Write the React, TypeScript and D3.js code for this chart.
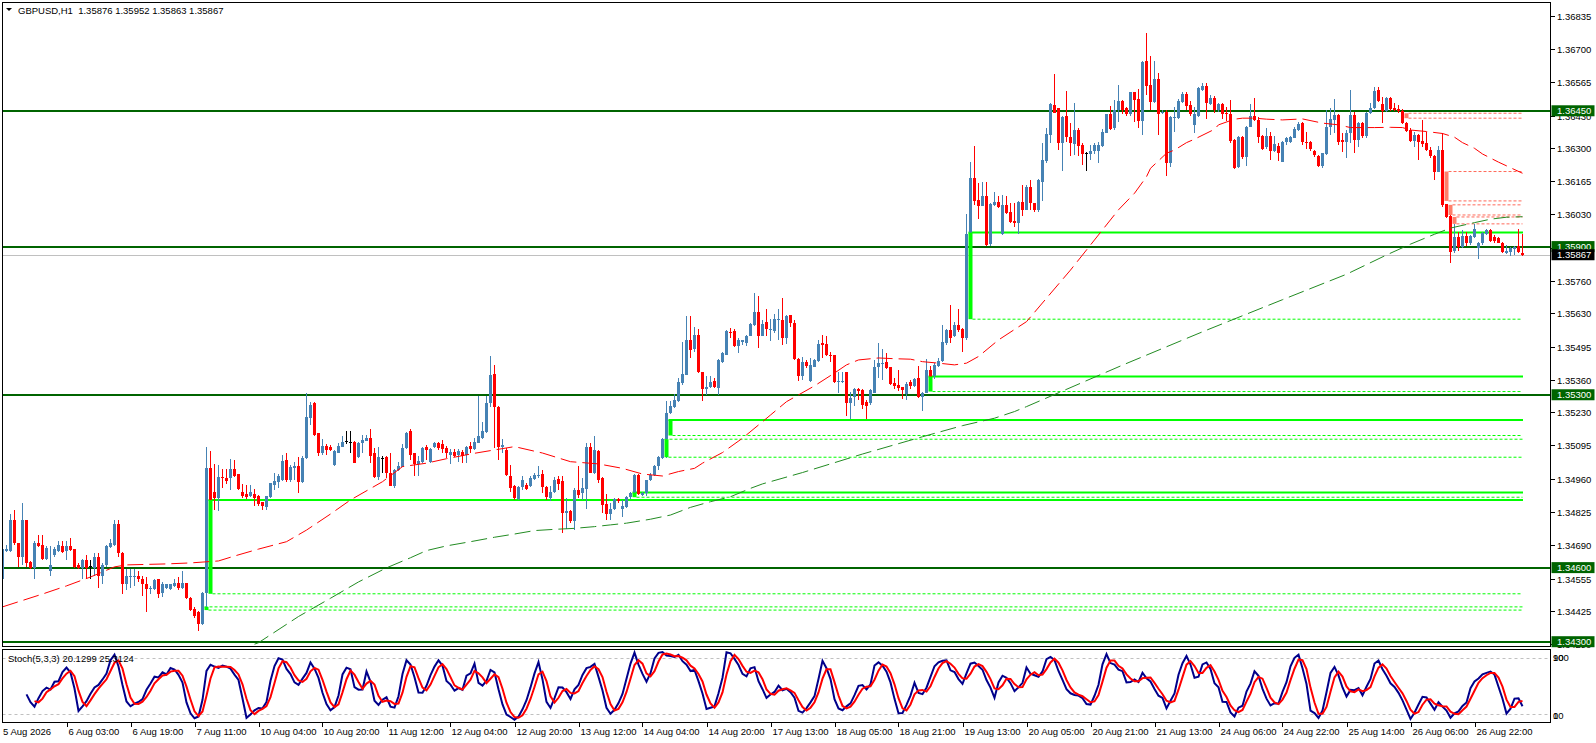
import React, { useEffect, useRef } from 'react';
import * as d3 from 'd3';

// GBPUSD H1 candles, [open, high, low, close]
const candles: [number, number, number, number][] = [
  [1.34552,1.34684,1.34543,1.34676],[1.34667,1.34692,1.34664,1.34674],[1.34667,1.34816,1.34664,1.34791],[1.34791,1.34833,1.34692,1.34701],
  [1.34701,1.34701,1.34601,1.34643],[1.34643,1.34863,1.34610,1.34791],[1.34791,1.34791,1.34601,1.34618],[1.34621,1.34626,1.34593,1.34598],
  [1.34598,1.34709,1.34552,1.34701],[1.34701,1.34734,1.34684,1.34687],[1.34692,1.34734,1.34631,1.34634],[1.34634,1.34687,1.34631,1.34681],
  [1.34585,1.34689,1.34568,1.34610],[1.34651,1.34684,1.34643,1.34676],[1.34667,1.34709,1.34664,1.34692],[1.34687,1.34709,1.34659,1.34664],
  [1.34667,1.34709,1.34631,1.34687],[1.34687,1.34720,1.34667,1.34671],[1.34676,1.34676,1.34598,1.34601],[1.34610,1.34618,1.34593,1.34598],
  [1.34598,1.34634,1.34552,1.34631],[1.34631,1.34651,1.34552,1.34598],[1.34605,1.34631,1.34552,1.34605],[1.34598,1.34659,1.34568,1.34643],
  [1.34643,1.34659,1.34519,1.34565],[1.34565,1.34618,1.34535,1.34610],[1.34610,1.34692,1.34601,1.34687],[1.34684,1.34717,1.34681,1.34701],
  [1.34692,1.34791,1.34687,1.34775],[1.34775,1.34791,1.34643,1.34659],[1.34659,1.34664,1.34494,1.34535],[1.34535,1.34593,1.34510,1.34565],
  [1.34560,1.34593,1.34519,1.34568],[1.34565,1.34593,1.34527,1.34568],[1.34568,1.34588,1.34543,1.34552],[1.34552,1.34568,1.34486,1.34532],
  [1.34532,1.34560,1.34419,1.34515],[1.34515,1.34527,1.34494,1.34519],[1.34515,1.34555,1.34510,1.34548],[1.34552,1.34555,1.34477,1.34494],
  [1.34499,1.34543,1.34482,1.34532],[1.34519,1.34535,1.34515,1.34532],[1.34515,1.34535,1.34510,1.34532],[1.34527,1.34552,1.34522,1.34538],
  [1.34538,1.34560,1.34510,1.34519],[1.34519,1.34585,1.34515,1.34538],[1.34538,1.34538,1.34472,1.34477],[1.34477,1.34482,1.34423,1.34428],
  [1.34433,1.34439,1.34395,1.34403],[1.34419,1.34424,1.34345,1.34370],[1.34370,1.34502,1.34366,1.34499],[1.34499,1.35089,1.34428,1.35003],
  [1.35003,1.35072,1.34866,1.34874],[1.34907,1.35020,1.34833,1.34882],[1.34882,1.35015,1.34829,1.34965],[1.34965,1.35001,1.34924,1.34962],
  [1.34962,1.34998,1.34940,1.34952],[1.34962,1.35039,1.34915,1.34998],[1.34998,1.35034,1.34968,1.34973],[1.34978,1.34981,1.34915,1.34919],
  [1.34907,1.34940,1.34882,1.34891],[1.34899,1.34935,1.34879,1.34886],[1.34891,1.34935,1.34886,1.34907],[1.34899,1.34919,1.34849,1.34882],
  [1.34891,1.34896,1.34849,1.34858],[1.34867,1.34867,1.34834,1.34850],[1.34847,1.34890,1.34834,1.34888],[1.34885,1.34944,1.34881,1.34942],
  [1.34935,1.34982,1.34915,1.34952],[1.34948,1.34979,1.34921,1.34969],[1.34955,1.35056,1.34952,1.35033],[1.35036,1.35063,1.34948,1.34955],
  [1.34955,1.35016,1.34948,1.35009],[1.35002,1.35029,1.34955,1.35012],[1.35012,1.35047,1.34901,1.34948],[1.34948,1.35050,1.34942,1.35043],
  [1.35043,1.35306,1.35039,1.35209],[1.35205,1.35272,1.35178,1.35259],[1.35266,1.35272,1.35131,1.35137],[1.35144,1.35147,1.35050,1.35066],
  [1.35066,1.35120,1.35056,1.35093],[1.35093,1.35101,1.35056,1.35077],[1.35087,1.35097,1.35074,1.35077],[1.35016,1.35077,1.35012,1.35072],
  [1.35066,1.35104,1.35063,1.35093],[1.35090,1.35131,1.35087,1.35110],[1.35113,1.35155,1.35101,1.35113],[1.35110,1.35155,1.35063,1.35110],
  [1.35110,1.35113,1.35023,1.35025],[1.35047,1.35108,1.35043,1.35104],[1.35104,1.35137,1.35063,1.35117],[1.35114,1.35137,1.35112,1.35126],
  [1.35126,1.35160,1.35023,1.35050],[1.35063,1.35083,1.34962,1.34966],[1.34966,1.35090,1.34955,1.35047],[1.35043,1.35052,1.34985,1.35043],
  [1.35047,1.35052,1.34962,1.34982],[1.34985,1.35063,1.34931,1.34931],[1.34931,1.34998,1.34921,1.34995],[1.34995,1.35029,1.34993,1.35012],
  [1.35009,1.35101,1.35006,1.35083],[1.35083,1.35151,1.35079,1.35144],[1.35155,1.35160,1.35036,1.35056],[1.35063,1.35066,1.34969,1.35020],
  [1.35020,1.35050,1.34969,1.35033],[1.35029,1.35087,1.35025,1.35083],[1.35087,1.35097,1.35036,1.35077],[1.35029,1.35083,1.35025,1.35079],
  [1.35087,1.35110,1.35083,1.35106],[1.35106,1.35110,1.35077,1.35083],[1.35101,1.35117,1.35063,1.35079],[1.35083,1.35093,1.35043,1.35066],
  [1.35056,1.35079,1.35020,1.35070],[1.35070,1.35079,1.35047,1.35052],[1.35056,1.35079,1.35029,1.35074],[1.35070,1.35077,1.35025,1.35052],
  [1.35056,1.35093,1.35025,1.35090],[1.35093,1.35110,1.35063,1.35079],[1.35079,1.35124,1.35077,1.35110],[1.35106,1.35295,1.35104,1.35131],
  [1.35124,1.35191,1.35120,1.35155],[1.35151,1.35295,1.35147,1.35268],[1.35268,1.35455,1.35252,1.35380],[1.35384,1.35421,1.35083,1.35252],
  [1.35252,1.35255,1.35036,1.35090],[1.35090,1.35120,1.35066,1.35097],[1.35077,1.35083,1.34969,1.34975],[1.34971,1.35016,1.34908,1.34921],
  [1.34929,1.34935,1.34875,1.34881],[1.34877,1.34929,1.34875,1.34926],[1.34926,1.34969,1.34915,1.34956],[1.34935,1.34942,1.34915,1.34918],
  [1.34929,1.34969,1.34926,1.34962],[1.34958,1.34982,1.34956,1.34976],[1.34972,1.35012,1.34962,1.34976],[1.34980,1.34996,1.34904,1.34926],
  [1.34926,1.34929,1.34875,1.34885],[1.34881,1.34929,1.34868,1.34908],[1.34908,1.34966,1.34904,1.34956],[1.34958,1.34972,1.34915,1.34939],
  [1.34949,1.34969,1.34740,1.34820],[1.34823,1.34881,1.34756,1.34831],[1.34831,1.34834,1.34780,1.34787],[1.34787,1.34922,1.34753,1.34915],
  [1.34915,1.35012,1.34881,1.34895],[1.34904,1.34962,1.34875,1.34922],[1.34920,1.35104,1.34837,1.35090],[1.35090,1.35104,1.34982,1.34985],
  [1.34985,1.35134,1.34980,1.35077],[1.35074,1.35077,1.34942,1.34956],[1.34962,1.34966,1.34820,1.34854],[1.34859,1.34899,1.34793,1.34818],
  [1.34818,1.34861,1.34793,1.34837],[1.34837,1.34881,1.34834,1.34877],[1.34877,1.34881,1.34861,1.34868],[1.34837,1.34875,1.34807,1.34850],
  [1.34845,1.34888,1.34841,1.34885],[1.34885,1.34908,1.34877,1.34904],[1.34902,1.34980,1.34885,1.34976],[1.34976,1.34980,1.34895,1.34899],
  [1.34895,1.34908,1.34888,1.34904],[1.34904,1.34956,1.34888,1.34953],[1.34953,1.34982,1.34949,1.34976],[1.34976,1.35016,1.34969,1.35012],
  [1.35012,1.35050,1.34996,1.35047],[1.35043,1.35124,1.35039,1.35120],[1.35120,1.35273,1.35043,1.35228],[1.35226,1.35273,1.35223,1.35255],
  [1.35250,1.35304,1.35246,1.35280],[1.35273,1.35367,1.35269,1.35350],[1.35347,1.35512,1.35340,1.35385],[1.35381,1.35617,1.35381,1.35520],
  [1.35522,1.35617,1.35448,1.35482],[1.35485,1.35576,1.35475,1.35543],[1.35543,1.35566,1.35388,1.35394],[1.35394,1.35394,1.35273,1.35323],
  [1.35323,1.35374,1.35300,1.35333],[1.35333,1.35377,1.35327,1.35350],[1.35354,1.35367,1.35327,1.35331],[1.35327,1.35444,1.35300,1.35439],
  [1.35431,1.35475,1.35428,1.35468],[1.35463,1.35563,1.35462,1.35560],[1.35556,1.35570,1.35529,1.35552],[1.35560,1.35566,1.35493,1.35496],
  [1.35498,1.35529,1.35468,1.35522],[1.35512,1.35522,1.35502,1.35520],[1.35509,1.35543,1.35498,1.35539],[1.35539,1.35590,1.35536,1.35587],
  [1.35583,1.35714,1.35579,1.35637],[1.35637,1.35701,1.35489,1.35536],[1.35539,1.35604,1.35536,1.35587],[1.35593,1.35647,1.35539,1.35566],
  [1.35562,1.35606,1.35519,1.35568],[1.35560,1.35627,1.35549,1.35606],[1.35603,1.35646,1.35522,1.35606],[1.35603,1.35691,1.35502,1.35529],
  [1.35529,1.35623,1.35506,1.35619],[1.35623,1.35623,1.35576,1.35590],[1.35592,1.35603,1.35441,1.35444],[1.35444,1.35448,1.35356,1.35376],
  [1.35376,1.35452,1.35360,1.35434],[1.35434,1.35441,1.35407,1.35417],[1.35356,1.35448,1.35353,1.35421],[1.35414,1.35444,1.35411,1.35441],
  [1.35438,1.35522,1.35434,1.35506],[1.35511,1.35542,1.35448,1.35502],[1.35506,1.35536,1.35455,1.35461],[1.35461,1.35475,1.35434,1.35457],
  [1.35461,1.35461,1.35347,1.35353],[1.35353,1.35394,1.35309,1.35356],[1.35353,1.35394,1.35347,1.35356],[1.35394,1.35394,1.35212,1.35268],
  [1.35268,1.35313,1.35201,1.35286],[1.35290,1.35326,1.35255,1.35322],[1.35322,1.35326,1.35279,1.35317],[1.35320,1.35322,1.35241,1.35259],
  [1.35272,1.35279,1.35201,1.35255],[1.35268,1.35322,1.35259,1.35320],[1.35309,1.35441,1.35306,1.35414],[1.35411,1.35508,1.35367,1.35428],
  [1.35425,1.35484,1.35360,1.35430],[1.35434,1.35468,1.35403,1.35407],[1.35411,1.35414,1.35340,1.35344],[1.35349,1.35367,1.35322,1.35336],
  [1.35340,1.35401,1.35317,1.35326],[1.35330,1.35333,1.35282,1.35320],[1.35303,1.35353,1.35279,1.35344],[1.35353,1.35360,1.35322,1.35336],
  [1.35336,1.35367,1.35333,1.35363],[1.35367,1.35417,1.35286,1.35290],[1.35292,1.35313,1.35236,1.35309],[1.35309,1.35444,1.35306,1.35401],
  [1.35401,1.35417,1.35367,1.35371],[1.35374,1.35428,1.35363,1.35421],[1.35417,1.35448,1.35411,1.35438],[1.35438,1.35583,1.35434,1.35515],
  [1.35511,1.35565,1.35502,1.35562],[1.35562,1.35664,1.35511,1.35529],[1.35536,1.35596,1.35533,1.35583],[1.35583,1.35646,1.35556,1.35562],
  [1.35565,1.35569,1.35475,1.35529],[1.35529,1.36032,1.35522,1.35951],[1.35947,1.36244,1.35947,1.36177],[1.36177,1.36308,1.36069,1.36086],
  [1.36089,1.36159,1.36011,1.36065],[1.36065,1.36163,1.36065,1.36105],[1.36105,1.36163,1.35903,1.35907],[1.35911,1.36076,1.35903,1.36073],
  [1.36069,1.36123,1.36065,1.36082],[1.36082,1.36105,1.36055,1.36059],[1.35951,1.36109,1.35947,1.36069],[1.36069,1.36103,1.36032,1.36035],
  [1.36042,1.36076,1.35997,1.36001],[1.36005,1.36076,1.35978,1.35997],[1.35997,1.36086,1.35951,1.36082],[1.36082,1.36150,1.36022,1.36049],
  [1.36048,1.36150,1.36048,1.36143],[1.36143,1.36170,1.36048,1.36075],[1.36075,1.36075,1.36042,1.36048],[1.36048,1.36173,1.36042,1.36170],
  [1.36163,1.36318,1.36086,1.36251],[1.36248,1.36379,1.36237,1.36356],[1.36352,1.36483,1.36318,1.36478],[1.36474,1.36599,1.36440,1.36443],
  [1.36460,1.36460,1.36291,1.36321],[1.36321,1.36429,1.36208,1.36424],[1.36429,1.36532,1.36325,1.36343],[1.36343,1.36402,1.36267,1.36318],
  [1.36316,1.36483,1.36271,1.36372],[1.36372,1.36379,1.36267,1.36308],[1.36312,1.36318,1.36231,1.36275],[1.36281,1.36285,1.36208,1.36281],
  [1.36275,1.36312,1.36251,1.36289],[1.36289,1.36318,1.36275,1.36312],[1.36289,1.36325,1.36240,1.36312],[1.36308,1.36375,1.36305,1.36366],
  [1.36362,1.36437,1.36359,1.36435],[1.36435,1.36470,1.36372,1.36375],[1.36379,1.36494,1.36372,1.36454],[1.36454,1.36555,1.36406,1.36491],
  [1.36491,1.36494,1.36435,1.36454],[1.36460,1.36464,1.36429,1.36435],[1.36435,1.36528,1.36427,1.36524],[1.36524,1.36528,1.36406,1.36494],
  [1.36497,1.36537,1.36379,1.36410],[1.36410,1.36653,1.36352,1.36649],[1.36653,1.36764,1.36514,1.36551],[1.36555,1.36670,1.36454,1.36487],
  [1.36487,1.36653,1.36483,1.36578],[1.36578,1.36602,1.36352,1.36435],[1.36440,1.36454,1.36437,1.36447],[1.36447,1.36454,1.36184,1.36240],
  [1.36240,1.36427,1.36224,1.36424],[1.36420,1.36464,1.36366,1.36424],[1.36420,1.36497,1.36416,1.36491],[1.36487,1.36528,1.36483,1.36518],
  [1.36518,1.36524,1.36454,1.36470],[1.36474,1.36491,1.36429,1.36435],[1.36393,1.36467,1.36362,1.36435],[1.36429,1.36545,1.36424,1.36541],
  [1.36534,1.36562,1.36532,1.36551],[1.36551,1.36564,1.36416,1.36480],[1.36478,1.36514,1.36474,1.36501],[1.36501,1.36511,1.36443,1.36454],
  [1.36454,1.36480,1.36447,1.36478],[1.36478,1.36480,1.36416,1.36437],[1.36440,1.36464,1.36410,1.36435],[1.36435,1.36494,1.36321,1.36329],
  [1.36332,1.36335,1.36213,1.36217],[1.36221,1.36348,1.36217,1.36343],[1.36343,1.36348,1.36254,1.36262],[1.36262,1.36389,1.36227,1.36386],
  [1.36386,1.36478,1.36383,1.36429],[1.36429,1.36501,1.36410,1.36413],[1.36413,1.36424,1.36321,1.36343],[1.36348,1.36352,1.36291,1.36294],
  [1.36302,1.36379,1.36294,1.36348],[1.36348,1.36366,1.36251,1.36289],[1.36289,1.36348,1.36285,1.36316],[1.36308,1.36318,1.36248,1.36281],
  [1.36244,1.36328,1.36241,1.36325],[1.36325,1.36345,1.36312,1.36341],[1.36325,1.36349,1.36318,1.36345],[1.36341,1.36386,1.36339,1.36376],
  [1.36372,1.36406,1.36368,1.36395],[1.36399,1.36406,1.36312,1.36325],[1.36325,1.36363,1.36295,1.36322],[1.36322,1.36328,1.36287,1.36295],
  [1.36287,1.36291,1.36264,1.36271],[1.36268,1.36271,1.36224,1.36228],[1.36228,1.36278,1.36220,1.36278],[1.36274,1.36453,1.36271,1.36386],
  [1.36386,1.36460,1.36352,1.36417],[1.36413,1.36498,1.36359,1.36433],[1.36433,1.36436,1.36312,1.36325],[1.36332,1.36359,1.36285,1.36325],
  [1.36325,1.36372,1.36260,1.36359],[1.36359,1.36534,1.36318,1.36433],[1.36433,1.36444,1.36278,1.36332],[1.36332,1.36406,1.36305,1.36399],
  [1.36399,1.36406,1.36339,1.36349],[1.36349,1.36444,1.36341,1.36440],[1.36440,1.36480,1.36436,1.36463],[1.36460,1.36548,1.36457,1.36530],
  [1.36534,1.36548,1.36487,1.36490],[1.36476,1.36507,1.36399,1.36449],[1.36449,1.36507,1.36446,1.36503],[1.36503,1.36507,1.36449,1.36457],
  [1.36463,1.36480,1.36449,1.36453],[1.36457,1.36474,1.36440,1.36449],[1.36449,1.36457,1.36395,1.36399],[1.36399,1.36406,1.36363,1.36368],
  [1.36372,1.36379,1.36325,1.36328],[1.36328,1.36366,1.36305,1.36352],[1.36352,1.36355,1.36251,1.36325],[1.36328,1.36413,1.36305,1.36314],
  [1.36318,1.36366,1.36287,1.36291],[1.36291,1.36305,1.36258,1.36268],[1.36268,1.36271,1.36170,1.36204],[1.36204,1.36309,1.36201,1.36291],
  [1.36291,1.36359,1.36062,1.36068],[1.36071,1.36074,1.36017,1.36021],[1.36024,1.36028,1.35835,1.35880],[1.35884,1.35992,1.35873,1.35938],
  [1.35938,1.35961,1.35884,1.35900],[1.35900,1.35967,1.35893,1.35943],[1.35943,1.35961,1.35903,1.35914],[1.35914,1.35947,1.35907,1.35943],
  [1.35940,1.35992,1.35934,1.35970],[1.35893,1.35920,1.35849,1.35916],[1.35914,1.35961,1.35907,1.35957],[1.35951,1.35970,1.35947,1.35967],
  [1.35967,1.35970,1.35920,1.35924],[1.35938,1.35947,1.35916,1.35924],[1.35934,1.35938,1.35914,1.35916],[1.35916,1.35920,1.35876,1.35880],
  [1.35876,1.35907,1.35870,1.35884],[1.35880,1.35900,1.35862,1.35893],[1.35889,1.35903,1.35866,1.35900],[1.35903,1.35970,1.35873,1.35880],
  [1.35876,1.35952,1.35863,1.35867],
];

// time axis: one label every 16 bars
const timeLabels = [
  '5 Aug 2026', '6 Aug 03:00', '6 Aug 19:00', '7 Aug 11:00', '10 Aug 04:00', '10 Aug 20:00',
  '11 Aug 12:00', '12 Aug 04:00', '12 Aug 20:00', '13 Aug 12:00', '14 Aug 04:00', '14 Aug 20:00',
  '17 Aug 13:00', '18 Aug 05:00', '18 Aug 21:00', '19 Aug 13:00', '20 Aug 05:00', '20 Aug 21:00',
  '21 Aug 13:00', '24 Aug 06:00', '24 Aug 22:00', '25 Aug 14:00', '26 Aug 06:00', '26 Aug 22:00',
];
const labelStep = 16;

const priceTicks = [
  1.36835, 1.367, 1.36565, 1.3643, 1.363, 1.36165, 1.3603, 1.35895, 1.3576, 1.3563,
  1.35495, 1.3536, 1.3523, 1.35095, 1.3496, 1.34825, 1.3469, 1.34555, 1.34425, 1.3429,
];

// horizontal support / resistance lines
const levels = [1.3645, 1.359, 1.353, 1.346, 1.343];
const bidPrice = 1.35867;

// bullish gaps: [bar, top, bottom, top line solid]
const bullGaps: [number, number, number, boolean][] = [
  [51, 1.34441, 1.34428, false],
  [52, 1.34874, 1.34494, true],
  [158, 1.34904, 1.34885, true],
  [166, 1.3512, 1.35047, false],
  [167, 1.35198, 1.35135, true],
  [232, 1.35374, 1.35313, true],
  [242, 1.35957, 1.35606, true],
];
// bearish gaps: [bar, top, bottom]
const bearGaps: [number, number, number][] = [
  [351, 1.3644, 1.3642],
  [361, 1.36204, 1.36085],
  [362, 1.36069, 1.36028],
  [363, 1.3602, 1.35992],
];

// moving averages: [bar, price]
const maFast: [number, number][] = [
  [0,1.34441],[10,1.34493],[16,1.34526],[22,1.34562],[28,1.34603],[31,1.34611],[41,1.34615],[47,1.34619],
  [54,1.34627],[58,1.34647],[64,1.34675],[71,1.34705],[76,1.34752],[82,1.34817],[87,1.34874],[95,1.34948],
  [100,1.35009],[106,1.35023],[111,1.35041],[118,1.35063],[128,1.3509],[135,1.35064],[142,1.35029],[149,1.3502],
  [155,1.35002],[160,1.34979],[165,1.34971],[169,1.34989],[173,1.35002],[175,1.35023],[180,1.35066],[185,1.35124],
  [190,1.35191],[192,1.35218],[196,1.35272],[203,1.35336],[208,1.35388],[211,1.35421],[214,1.35441],[219,1.35449],
  [223,1.35446],[227,1.35444],[230,1.35434],[234,1.35428],[238,1.35421],[241,1.35428],[244,1.35455],[249,1.35522],
  [256,1.35596],[267,1.35805],[279,1.36049],[283,1.36116],[286,1.36183],[287,1.36217],[291,1.36278],[293,1.36291],
  [296,1.36321],[298,1.36335],[303,1.36375],[304,1.36393],[308,1.36416],[310,1.3642],[313,1.3642],[316,1.36416],
  [320,1.36413],[325,1.36417],[330,1.364],[334,1.36393],[337,1.36382],[343,1.36382],[347,1.36383],[350,1.36382],
  [352,1.36372],[356,1.36366],[360,1.36358],[363,1.36343],[365,1.36321],[368,1.36298],[370,1.36275],[374,1.36242],
  [376,1.36227],[380,1.36197],
];
const maSlow: [number, number][] = [
  [63,1.3429],[64,1.34296],[74,1.34402],[82,1.34476],[89,1.34542],[96,1.34599],[102,1.3464],[106,1.34669],
  [111,1.34688],[117,1.34705],[123,1.34723],[128,1.34736],[133,1.3475],[138,1.34755],[143,1.34759],[148,1.34766],
  [152,1.34773],[156,1.3478],[162,1.34796],[167,1.34813],[172,1.34844],[177,1.34867],[182,1.34887],[187,1.34921],
  [190,1.34939],[200,1.34985],[215,1.3506],[230,1.3513],[240,1.35175],[248,1.35205],[253,1.35232],[256,1.35252],
  [280,1.3542],[300,1.35555],[320,1.35685],[336,1.35788],[346,1.35866],[352,1.3591],[358,1.3595],[362,1.35975],
  [368,1.35997],[372,1.36011],[376,1.36019],[380,1.36021],
];

const stochLevels = [90, 10];

const FONT = "'Liberation Sans', Arial, sans-serif";

function stochastic(kPeriod: number, slowing: number, dPeriod: number) {
  const n = candles.length;
  const main: (number | null)[] = new Array(n).fill(null);
  const signal: (number | null)[] = new Array(n).fill(null);
  for (let i = kPeriod + slowing - 2; i < n; i++) {
    let num = 0, den = 0;
    for (let j = 0; j < slowing; j++) {
      const idx = i - j;
      let ll = Infinity, hh = -Infinity;
      for (let k = idx - kPeriod + 1; k <= idx; k++) {
        ll = Math.min(ll, candles[k][2]);
        hh = Math.max(hh, candles[k][1]);
      }
      num += candles[idx][3] - ll;
      den += hh - ll;
    }
    main[i] = den === 0 ? 100 : (100 * num) / den;
  }
  for (let i = 0; i < n; i++) {
    const win = main.slice(Math.max(0, i - dPeriod + 1), i + 1);
    if (win.length === dPeriod && win.every(v => v !== null)) {
      signal[i] = d3.mean(win as number[])!;
    }
  }
  return { main, signal };
}

function App() {
  const ref = useRef<SVGSVGElement>(null);

  useEffect(() => {
    if (!ref.current) return;
    const svg = d3.select(ref.current);
    svg.selectAll('*').remove();

    const W = 1596, H = 743;
    const left = 2.5, right = 1550.5;
    const mainTop = 2.5, mainBottom = 646.5;
    const stTop = 649.5, stBottom = 722.5;
    const lastX = 1522.5;

    const x = d3.scaleLinear().domain([0, candles.length - 1]).range([2.5, lastX]);
    const y = d3.scaleLinear().domain([1.343, 1.36835]).range([641.7, 15.7]);
    const ys = d3.scaleLinear().domain([0, 100]).range([721, 650.5]);

    svg.append('rect').attr('width', W).attr('height', H).attr('fill', '#ffffff');

    const defs = svg.append('defs');
    defs.append('clipPath').attr('id', 'mainClip')
      .append('rect').attr('x', left).attr('y', mainTop).attr('width', right - left).attr('height', mainBottom - mainTop);
    defs.append('clipPath').attr('id', 'stClip')
      .append('rect').attr('x', left).attr('y', stTop).attr('width', right - left).attr('height', stBottom - stTop);

    const main = svg.append('g').attr('clip-path', 'url(#mainClip)');

    // bid line
    main.append('line')
      .attr('x1', left).attr('x2', right)
      .attr('y1', Math.round(y(bidPrice)) + 0.5).attr('y2', Math.round(y(bidPrice)) + 0.5)
      .attr('stroke', '#c0c0c0').attr('stroke-width', 1);

    // horizontal levels
    main.selectAll('.level').data(levels).enter().append('line')
      .attr('x1', left).attr('x2', right)
      .attr('y1', d => Math.round(y(d))).attr('y2', d => Math.round(y(d)))
      .attr('stroke', '#006400').attr('stroke-width', 2);

    // gap extension lines
    bullGaps.forEach(([bar, top, bottom, solid]) => {
      const x0 = x(bar) - 2;
      main.append('line')
        .attr('x1', x0).attr('x2', lastX + 0.5)
        .attr('y1', y(top)).attr('y2', y(top))
        .attr('stroke', '#00ff00')
        .attr('stroke-width', solid ? 2 : 1)
        .attr('stroke-dasharray', solid ? null : '3,2');
      main.append('line')
        .attr('x1', x0 + 4).attr('x2', lastX)
        .attr('y1', y(bottom)).attr('y2', y(bottom))
        .attr('stroke', '#00ff00').attr('stroke-width', 1).attr('stroke-dasharray', '3,2');
    });
    bearGaps.forEach(([bar, top, bottom]) => {
      const x0 = x(bar) + 2;
      [top, bottom].forEach(p => {
        main.append('line')
          .attr('x1', x0).attr('x2', lastX)
          .attr('y1', y(p)).attr('y2', y(p))
          .attr('stroke', '#ff6a5a').attr('stroke-width', 1).attr('stroke-dasharray', '3,2');
      });
    });

    // candles
    const bull = '#4682b4', bear = '#ff0000';
    const colorOf = (d: [number, number, number, number]) =>
      d[3] > d[0] ? bull : d[3] < d[0] ? bear : '#000000';
    const cg = main.append('g').attr('shape-rendering', 'crispEdges');
    cg.selectAll('.wick').data(candles).enter().append('line')
      .attr('x1', (_, i) => x(i)).attr('x2', (_, i) => x(i))
      .attr('y1', d => y(d[1])).attr('y2', d => y(d[2]))
      .attr('stroke', colorOf).attr('stroke-width', 1);
    cg.selectAll('.body').data(candles).enter().append('rect')
      .attr('x', (_, i) => x(i) - 1.5)
      .attr('width', 3)
      .attr('y', d => y(Math.max(d[0], d[3])))
      .attr('height', d => Math.max(1, Math.abs(y(d[0]) - y(d[3]))))
      .attr('fill', colorOf);

    // gap boxes
    main.selectAll('.bullGap').data(bullGaps).enter().append('rect')
      .attr('x', d => x(d[0]) - 2).attr('width', 4)
      .attr('y', d => y(d[1])).attr('height', d => Math.max(1, y(d[2]) - y(d[1])))
      .attr('fill', '#00ff00');
    main.selectAll('.bearGap').data(bearGaps).enter().append('rect')
      .attr('x', d => x(d[0]) - 2).attr('width', 4)
      .attr('y', d => y(d[1])).attr('height', d => Math.max(1, y(d[2]) - y(d[1])))
      .attr('fill', '#ff7f6a');

    // moving averages
    const maLine = d3.line<[number, number]>().x(d => x(d[0])).y(d => y(d[1]));
    main.append('path').attr('d', maSlow && maLine(maSlow))
      .attr('fill', 'none').attr('stroke', '#228b22').attr('stroke-width', 1).attr('stroke-dasharray', '16,6');
    main.append('path').attr('d', maLine(maFast))
      .attr('fill', 'none').attr('stroke', '#ff0000').attr('stroke-width', 1).attr('stroke-dasharray', '16,6');

    // stochastic panel
    const st = svg.append('g').attr('clip-path', 'url(#stClip)');
    st.selectAll('.stLevel').data(stochLevels).enter().append('line')
      .attr('x1', left).attr('x2', right)
      .attr('y1', d => Math.round(ys(d)) + 0.5).attr('y2', d => Math.round(ys(d)) + 0.5)
      .attr('stroke', '#c0c0c0').attr('stroke-dasharray', '3,3');
    const { main: kLine, signal: dLine } = stochastic(5, 3, 3);
    const sLine = d3.line<number | null>()
      .defined(d => d !== null)
      .x((_, i) => x(i)).y(d => ys(d as number));
    st.append('path').attr('d', sLine(kLine))
      .attr('fill', 'none').attr('stroke', '#00008b').attr('stroke-width', 2);
    st.append('path').attr('d', sLine(dLine))
      .attr('fill', 'none').attr('stroke', '#ff0000').attr('stroke-width', 2);

    // panel borders
    const border = svg.append('g').attr('fill', 'none').attr('stroke', '#000').attr('shape-rendering', 'crispEdges');
    border.append('rect').attr('x', left).attr('y', mainTop).attr('width', right - left).attr('height', mainBottom - mainTop);
    border.append('rect').attr('x', left).attr('y', stTop).attr('width', right - left).attr('height', stBottom - stTop);

    // header
    svg.append('path').attr('d', 'M6,8 L12,8 L9,11 Z').attr('fill', '#000');
    svg.append('text')
      .attr('x', 18).attr('y', 13.5)
      .style('font-family', FONT).style('font-size', '9.5px').style('white-space', 'pre')
      .attr('fill', '#000')
      .text('GBPUSD,H1  1.35876 1.35952 1.35863 1.35867');
    svg.append('text')
      .attr('x', 8).attr('y', 662)
      .style('font-family', FONT).style('font-size', '9.5px')
      .attr('fill', '#000')
      .text('Stoch(5,3,3) 20.1299 25.3124');

    // price axis
    const axis = svg.append('g').style('font-family', FONT).style('font-size', '9.5px');
    priceTicks.forEach(p => {
      const yy = Math.round(y(p)) + 0.5;
      axis.append('line').attr('x1', right).attr('x2', right + 4).attr('y1', yy).attr('y2', yy)
        .attr('stroke', '#000').attr('shape-rendering', 'crispEdges');
      axis.append('text').attr('x', 1557).attr('y', yy + 3.5).attr('fill', '#000').text(p.toFixed(5));
    });
    const boxes: [number, string][] = levels.map(l => [l, '#006400']);
    boxes.push([bidPrice, '#000000']);
    boxes.forEach(([p, c]) => {
      const yy = y(p);
      axis.append('rect').attr('x', right + 1).attr('y', yy - 5.5).attr('width', 43).attr('height', 11).attr('fill', c);
      axis.append('text').attr('x', 1557).attr('y', yy + 3.5).attr('fill', '#fff').text(p.toFixed(5));
    });
    // stochastic scale
    [[100, 660.5], [90, 660.5], [10, 718.5], [0, 718.5]].forEach(([v, yy]) => {
      axis.append('text').attr('x', 1553).attr('y', yy).attr('fill', '#000').text(String(v));
    });

    // time axis
    timeLabels.forEach((t, k) => {
      const xx = Math.round(x(k * labelStep)) + 0.5;
      if (k > 0) {
        axis.append('line').attr('x1', xx).attr('x2', xx).attr('y1', stBottom).attr('y2', stBottom + 4)
          .attr('stroke', '#000').attr('shape-rendering', 'crispEdges');
      }
      axis.append('text').attr('x', k === 0 ? 3 : xx + 1).attr('y', 734.5).attr('fill', '#000').text(t);
    });
  }, []);

  return (
    <div style={{ position: 'absolute', left: 0, top: 0 }}>
      <svg ref={ref} width={1596} height={743} style={{ display: 'block' }} />
    </div>
  );
}

export default App;
